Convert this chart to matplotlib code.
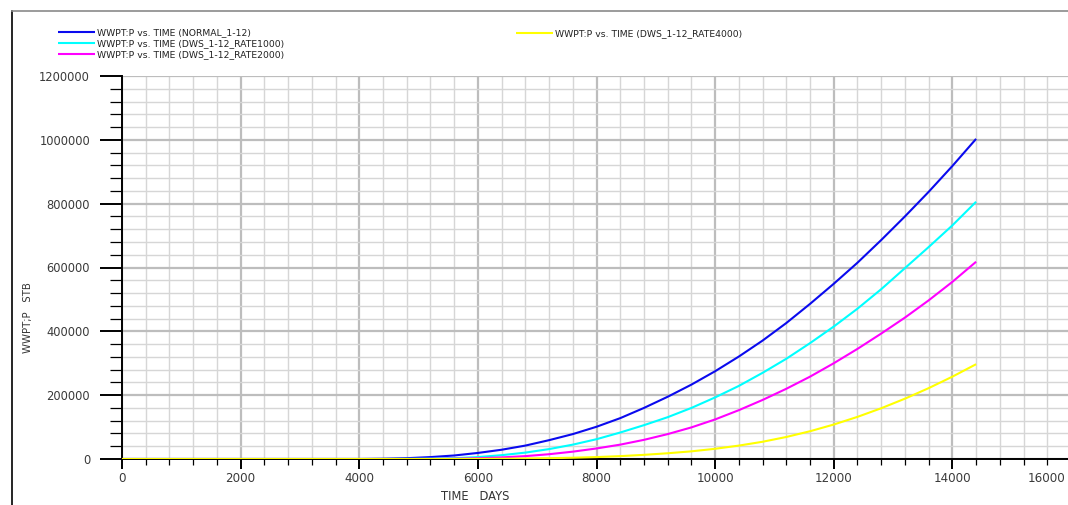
import numpy as np
import matplotlib
matplotlib.use("Agg")
import matplotlib.pyplot as plt
from matplotlib.lines import Line2D
from matplotlib.ticker import MultipleLocator, FixedLocator
import matplotlib.transforms as mtransforms

# time in days, WWPT:P in thousands of STB
time_days = [0, 2000, 4000, 4400, 4800, 5200, 5600, 6000, 6400, 6800, 7200, 7600,
             8000, 8400, 8800, 9200, 9600, 10000, 10400, 10800, 11200, 11600,
             12000, 12400, 12800, 13200, 13600, 14000, 14400]
normal_k = [0, 0, 0, 0.8, 2.5, 6, 11, 19, 29, 42, 59, 78,
            101, 128, 160, 195, 233, 275, 321, 371, 426, 486,
            549, 615, 686, 760, 837, 918, 1003]
rate1000_k = [0, 0, 0, 0, 0.3, 1, 2.5, 6, 12, 20, 31, 45,
              62, 83, 106, 131, 160, 193, 229, 270, 314, 363,
              415, 471, 532, 598, 664, 732, 806]
rate2000_k = [0, 0, 0, 0, 0, 0.3, 1, 2.5, 5, 9, 15, 23,
              33, 45, 60, 78, 99, 124, 153, 185, 220, 258,
              300, 345, 393, 443, 497, 555, 618]
rate4000_k = [0, 0, 0, 0, 0, 0, 0.1, 0.4, 0.8, 1.5, 2.5, 4,
              6, 9, 13, 18, 24, 32, 42, 54, 69, 87,
              108, 132, 159, 189, 222, 258, 297]

series_names = ["WWPT:P vs. TIME (NORMAL_1-12)",
                "WWPT:P vs. TIME (DWS_1-12_RATE1000)",
                "WWPT:P vs. TIME (DWS_1-12_RATE2000)",
                "WWPT:P vs. TIME (DWS_1-12_RATE4000)"]
series_vals = [normal_k, rate1000_k, rate2000_k, rate4000_k]
colors = ["#0a0aee", "#00ffff", "#ff00ff", "#ffff00"]

x_ticks = [0, 2000, 4000, 6000, 8000, 10000, 12000, 14000, 16000]
y_ticks = [0, 200000, 400000, 600000, 800000, 1000000, 1200000]

W, H = 1068, 505
fig = plt.figure(figsize=(W / 100, H / 100), dpi=100)
ax = fig.add_axes([122 / W, 1 - 459 / H, 949 / W, 383 / H])

t = np.array(time_days)
handles = []
for name, vals, c in zip(series_names, series_vals, colors):
    h, = ax.plot(t, np.array(vals) * 1000, color=c, lw=1.5, label=name,
                 solid_capstyle="butt", solid_joinstyle="round", zorder=3)
    handles.append(h)

ax.set_xlim(0, 16000)
ax.set_ylim(0, 1200000)
ax.xaxis.set_major_locator(FixedLocator(x_ticks))
ax.yaxis.set_major_locator(FixedLocator(y_ticks))
ax.xaxis.set_minor_locator(MultipleLocator(400))
ax.yaxis.set_minor_locator(MultipleLocator(40000))
ax.set_xticklabels([str(v) for v in x_ticks])
ax.set_yticklabels([str(v) for v in y_ticks])

ax.grid(which="major", color="#bdbdbd", lw=1.6, zorder=0)
ax.grid(which="minor", color="#d6d6d6", lw=1.0, zorder=0)
ax.set_axisbelow(True)

for s in ["top", "right"]:
    ax.spines[s].set_visible(False)
for s in ["left", "bottom"]:
    ax.spines[s].set_color("black")
    ax.spines[s].set_linewidth(1.4)

ax.tick_params(axis="y", which="major", length=16, width=1.4, pad=7,
               labelsize=8.3, labelcolor="#3a3a3a")
ax.tick_params(axis="y", which="minor", length=8.5, width=0.9)
ax.tick_params(axis="x", which="major", length=7.5, width=1.4, pad=2,
               labelsize=8.6, labelcolor="#3a3a3a")
ax.tick_params(axis="x", which="minor", length=4, width=0.9)

# last x label sits inside the picture
lab = ax.get_xticklabels()[-1]
lab.set_ha("right")
lab.set_transform(lab.get_transform() +
                  mtransforms.ScaledTranslation(-6 / 100, 0, fig.dpi_scale_trans))

fig.text(28 / W, 1 - 318 / H, "WWPT;P   STB", rotation=90, ha="center",
         va="center", fontsize=7.3, color="#333333")
fig.text(475 / W, 1 - 496 / H, "TIME   DAYS", ha="center", va="center",
         fontsize=8.3, color="#333333")

leg_kw = dict(frameon=False, fontsize=6.7, handlelength=4.0, handletextpad=0.2,
              labelspacing=0.22, borderpad=0, borderaxespad=0,
              loc="upper left", labelcolor="#222222")
fig.legend(handles[:3], series_names[:3], bbox_to_anchor=(58 / W, 1 - 28 / H), **leg_kw)
fig.legend(handles[3:], series_names[3:], bbox_to_anchor=(516 / W, 1 - 29 / H), **leg_kw)

# outer window frame
fig.add_artist(Line2D([12 / W, 12 / W], [0, 1 - 11 / H], color="black", lw=1.2))
fig.add_artist(Line2D([12 / W, 1], [1 - 11 / H, 1 - 11 / H], color="#8a8a8a", lw=1.2))

fig.savefig("out.png", dpi=100)
